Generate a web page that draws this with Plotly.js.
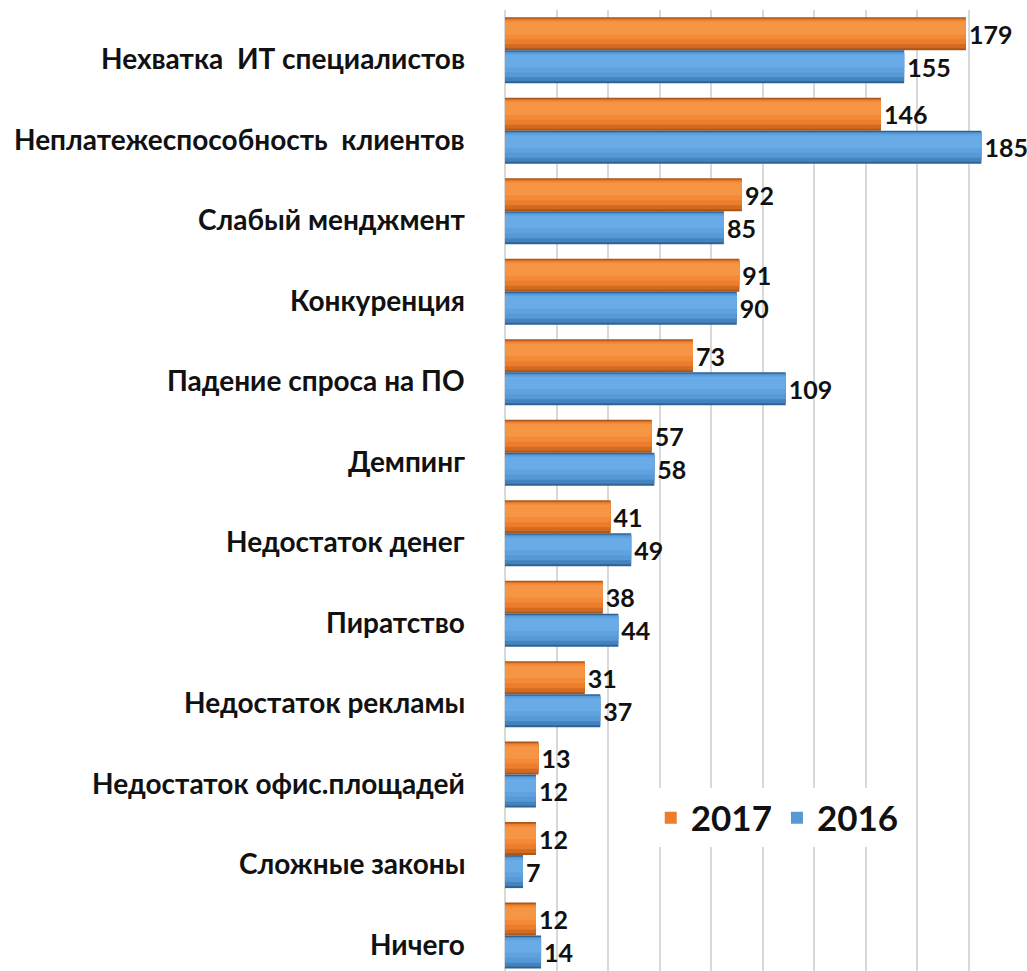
<!DOCTYPE html>
<html>
<head>
<meta charset="utf-8">
<script src="https://cdn.plot.ly/plotly-3.0.1.min.js"></script>
<style>
  html, body { margin: 0; padding: 0; background: #ffffff; }
  #chart { width: 1027px; height: 971px; }
</style>
</head>
<body>
<div id="chart"></div>
<script>
// ---- data ----
const categories = [
  "Нехватка  ИТ специалистов",
  "Неплатежеспособность  клиентов",
  "Слабый менджмент",
  "Конкуренция",
  "Падение спроса на ПО",
  "Демпинг",
  "Недостаток денег",
  "Пиратство",
  "Недостаток рекламы",
  "Недостаток офис.площадей",
  "Сложные законы",
  "Ничего"
];
const values2017 = [179, 146, 92, 91, 73, 57, 41, 38, 31, 13, 12, 12];
const values2016 = [155, 185, 85, 90, 109, 58, 49, 44, 37, 12, 7, 14];
const seriesNames = ["2017", "2016"];

// ---- style ----
const FONT = "Lato, 'Open Sans', 'Liberation Sans', sans-serif";
// shading layers from outer (dark edge) to inner highlight: [colour, start fraction, width fraction]
const orangeLayers = [
  ["#A9561A", 0.00, 1.00],
  ["#D26A20", 0.04, 0.90],
  ["#EC7D2C", 0.06, 0.76],
  ["#F28A38", 0.09, 0.58],
  ["#F69544", 0.14, 0.38]
];
const blueLayers = [
  ["#2F6193", 0.00, 1.00],
  ["#4583BE", 0.04, 0.90],
  ["#5699D6", 0.06, 0.76],
  ["#5EA3E0", 0.09, 0.58],
  ["#68ABE6", 0.14, 0.38]
];

function cylinder(vals, name, layers, off, w) {
  return layers.map((L, i) => {
    const tr = {
      type: "bar", orientation: "h", x: vals, y: categories, name: name,
      offset: off + w * L[1], width: w * L[2],
      marker: { color: L[0], line: { width: 0 } },
      hoverinfo: i === 0 ? "x+name" : "skip",
      showlegend: i === 2, legendgroup: name
    };
    if (i === 0) {
      tr.text = vals.map(String);
      tr.textposition = "outside";
      tr.cliponaxis = false;
      tr.textfont = { family: FONT, size: 25, color: "#111111", weight: "bold" };
    }
    return tr;
  });
}

const data = [].concat(
  cylinder(values2017, seriesNames[0], orangeLayers, -0.41, 0.41),
  cylinder(values2016, seriesNames[1], blueLayers, 0.0, 0.41)
);

const annotations = categories.map(c => ({
  xref: "paper", yref: "y", x: 0, y: c,
  xanchor: "right", yanchor: "middle",
  xshift: -38, yshift: -8,
  text: c.replace(/  /g, "&nbsp; "),
  showarrow: false,
  font: { family: FONT, size: 28, color: "#111111", weight: "bold" }
}));

const layout = {
  width: 1027, height: 971,
  margin: { l: 505, r: 7, t: 10, b: 0 },
  paper_bgcolor: "#ffffff", plot_bgcolor: "#ffffff",
  barmode: "overlay",
  font: { family: FONT, color: "#111111" },
  xaxis: {
    range: [0, 200], dtick: 20, tick0: 0,
    showgrid: true, gridcolor: "#D9D9D9", gridwidth: 2,
    zeroline: true, zerolinecolor: "#D9D9D9", zerolinewidth: 2,
    showticklabels: false, ticks: "", showline: false
  },
  yaxis: {
    type: "category",
    range: [11.44, -0.5],
    showgrid: false, zeroline: false, showline: false, ticks: "",
    showticklabels: false
  },
  annotations: annotations,
  legend: {
    orientation: "h",
    x: 0.283, xanchor: "left",
    y: 0.19, yanchor: "top",
    bgcolor: "#ffffff",
    font: { family: FONT, size: 35, color: "#111111", weight: "bold" },
    traceorder: "normal",
    itemwidth: 30
  },
  showlegend: true
};

Plotly.newPlot("chart", data, layout, { displayModeBar: false, staticPlot: true });
</script>
</body>
</html>
